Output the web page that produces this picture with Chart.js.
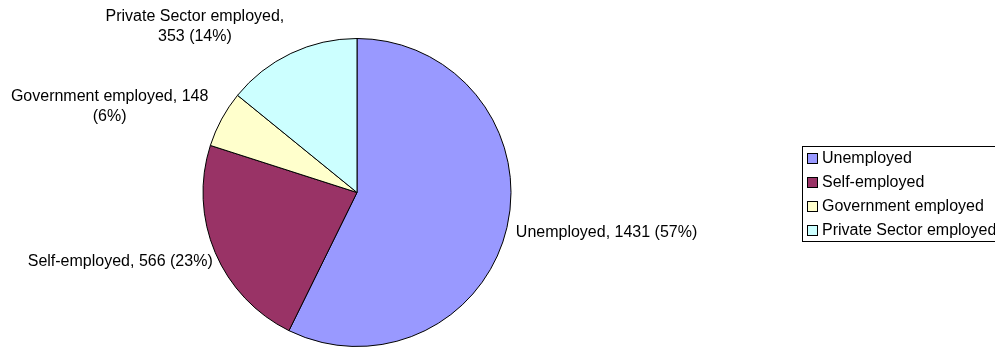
<!DOCTYPE html>
<html>
<head>
<meta charset="utf-8">
<script src="https://cdn.jsdelivr.net/npm/chart.js@4/dist/chart.umd.min.js"></script>
<style>
  html, body { margin: 0; padding: 0; background: #fff; }
  #wrap { width: 995px; height: 350px; }
</style>
</head>
<body>
<div id="wrap"><canvas id="c" width="995" height="350"></canvas></div>
<script>
const categories = ["Unemployed", "Self-employed", "Government employed", "Private Sector employed"];
const values = [1431, 566, 148, 353];
const percents = [57, 23, 6, 14];
const colors = ["#9999FF", "#993366", "#FFFFCC", "#CCFFFF"];

const FONT = '16px "Liberation Sans", Arial, sans-serif';

// label layout: side and line-splitting per slice
const labelLayout = [
  { lines: i => [`${categories[i]}, ${values[i]} (${percents[i]}%)`], mode: 'left', dx: 3, dy: 4 },
  { lines: i => [`${categories[i]}, ${values[i]} (${percents[i]}%)`], mode: 'right', dx: 3, dy: 7 },
  { lines: i => [`${categories[i]}, ${values[i]}`, `(${percents[i]}%)`], mode: 'blockRight', dx: -8, dy: 0 },
  { lines: i => [`${categories[i]},`, `${values[i]} (${percents[i]}%)`], mode: 'blockRight', dx: -4, dy: -11 }
];

const pieLabels = {
  id: 'pieLabels',
  afterDatasetsDraw(chart) {
    const ctx = chart.ctx;
    const meta = chart.getDatasetMeta(0);
    ctx.save();
    ctx.font = FONT;
    ctx.fillStyle = '#000';
    ctx.textBaseline = 'middle';
    meta.data.forEach((arc, i) => {
      const p = arc.getProps(['x', 'y', 'startAngle', 'endAngle', 'outerRadius'], true);
      const mid = (p.startAngle + p.endAngle) / 2;
      const r = p.outerRadius + 6;
      const ax = p.x + Math.cos(mid) * r;
      const ay = p.y + Math.sin(mid) * r;
      const L = labelLayout[i];
      const lines = L.lines(i);
      if (L.mode === 'left') {
        ctx.textAlign = 'left';
        ctx.fillText(lines[0], ax + L.dx, ay + L.dy);
      } else if (L.mode === 'right') {
        ctx.textAlign = 'right';
        ctx.fillText(lines[0], ax + L.dx, ay + L.dy);
      } else {
        const w = Math.max(...lines.map(s => ctx.measureText(s).width));
        const cx = ax + L.dx - w / 2;
        const lh = 20;
        ctx.textAlign = 'center';
        lines.forEach((s, k) => {
          ctx.fillText(s, cx, ay + L.dy - (lines.length - 1 - k) * lh);
        });
      }
    });
    ctx.restore();
  }
};

const boxLegend = {
  id: 'boxLegend',
  afterDraw(chart) {
    const ctx = chart.ctx;
    ctx.save();
    ctx.strokeStyle = '#000';
    ctx.lineWidth = 1;
    ctx.strokeRect(802.5, 146.5, 200, 95);
    ctx.font = FONT;
    ctx.textBaseline = 'middle';
    ctx.textAlign = 'left';
    categories.forEach((c, i) => {
      const yc = 159 + i * 24;
      ctx.fillStyle = colors[i];
      ctx.fillRect(807.5, yc - 5.5, 10, 10);
      ctx.strokeRect(807.5, yc - 5.5, 10, 10);
      ctx.fillStyle = '#000';
      ctx.fillText(c, 822, yc);
    });
    ctx.restore();
  }
};

new Chart(document.getElementById('c'), {
  type: 'pie',
  data: {
    labels: categories,
    datasets: [{
      data: values,
      backgroundColor: colors,
      borderColor: '#000',
      borderWidth: 1
    }]
  },
  options: {
    responsive: false,
    animation: false,
    layout: { padding: { left: 202.5, right: 483.5, top: 38, bottom: 3 } },
    plugins: {
      legend: { display: false },
      tooltip: { enabled: false }
    }
  },
  plugins: [pieLabels, boxLegend]
});
</script>
</body>
</html>
